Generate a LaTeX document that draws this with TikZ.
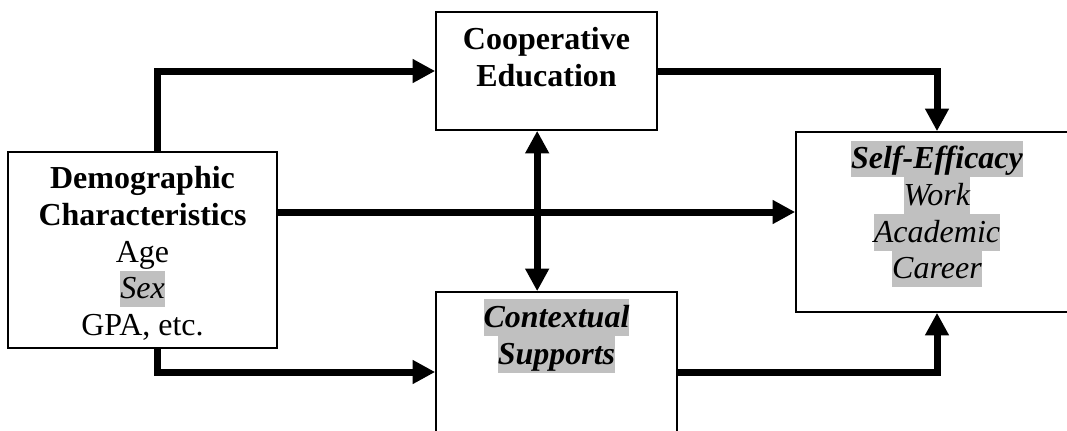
\documentclass[tikz,border=0pt]{standalone}
\usepackage{fontspec}
\setmainfont{Liberation Serif}
\usetikzlibrary{positioning, arrows.meta}

\definecolor{hlgray}{RGB}{192,192,192}
\newcommand{\linestrut}{\rule[-6.5pt]{0pt}{27.5pt}}
\newcommand{\hl}[1]{{\setlength{\fboxsep}{0pt}\colorbox{hlgray}{\linestrut#1}}}

\begin{document}
\begin{tikzpicture}[
    x=0.75pt, y=-0.75pt,
    box/.style={
        draw,
        line width=1.2pt,
        inner sep=0pt
    },
    boxtext/.style={
        align=center,
        inner sep=0pt,
        font=\fontsize{24}{27.5}\selectfont
    },
    arrow/.style={-{Triangle[length=17pt, width=17pt]}, line width=5.25pt},
    twoway/.style={{Triangle[length=17pt, width=17pt]}-{Triangle[length=17pt, width=17pt]}, line width=5.25pt}
]
\useasboundingbox (0,0) rectangle (1067,430);
\clip (0,0) rectangle (1067,430);

\node[box, minimum width=201.75pt, minimum height=147pt] (demo) at (142.5,250) {};
\node[box, minimum width=165.75pt, minimum height=88.5pt] (coop) at (546.5,71) {};
\node[box, minimum width=180.75pt, minimum height=120pt] (ctx) at (556.5,372) {};
\node[box, minimum width=211.5pt, minimum height=135pt] (se) at (937,222) {};

\node[boxtext, below=7pt of demo.north] (demo-text) {\linestrut\textbf{Demographic}\\
    \linestrut\textbf{Characteristics}\\ \linestrut Age\\ \hl{\textit{Sex}}\\ \linestrut GPA, etc.};
\node[boxtext, below=7.5pt of coop.north] (coop-text) {\linestrut\textbf{Cooperative}\\
    \linestrut\textbf{Education}};
\node[boxtext, below=6pt of ctx.north] (ctx-text) {\hl{\textbf{\textit{Contextual}}}\\
    \hl{\textbf{\textit{Supports}}}};
\node[boxtext, below=7pt of se.north] (se-text) {\hl{\textbf{\textit{Self-Efficacy}}}\\
    \hl{\textit{Work}}\\ \hl{\textit{Academic}}\\ \hl{\textit{Career}}};

\coordinate (d1) at ([yshift=28.5pt]demo.east);
\coordinate (c1) at ([xshift=-7pt]coop.south);

\draw[arrow] ([xshift=11pt]demo.north) |- (coop.west);
\draw[arrow] (d1) -- (d1 -| se.west);
\draw[arrow] ([xshift=11pt]demo.south) |- (ctx.west);
\draw[arrow] (coop.east) -| (se.north);
\draw[arrow] (ctx.east) -| (se.south);
\draw[twoway] (c1) -- (c1 |- ctx.north);

\end{tikzpicture}
\end{document}
